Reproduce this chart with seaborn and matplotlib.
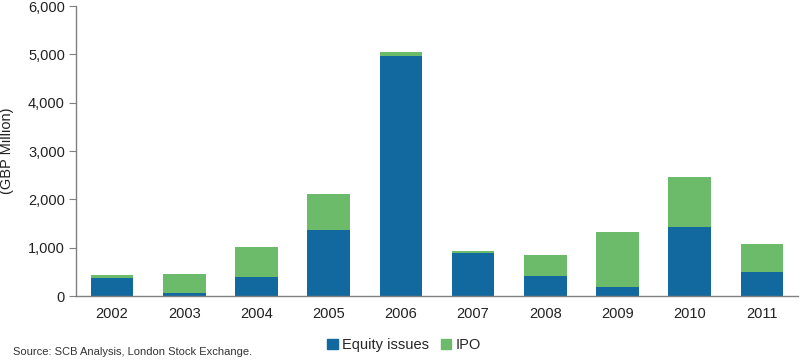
import pandas as pd
import seaborn as sns
import matplotlib.pyplot as plt
import matplotlib
from matplotlib.patches import Patch

matplotlib.use('Agg')

# Daten (GBP Million)
years = ['2002', '2003', '2004', '2005', '2006', '2007', '2008', '2009', '2010', '2011']
equity_issues = [380, 55, 385, 1365, 4970, 885, 410, 195, 1420, 490]
ipo = [55, 405, 620, 745, 75, 45, 430, 1120, 1050, 580]

blue = '#12699f'
green = '#6cbb6a'
axis_grey = '#808080'

df = pd.DataFrame({'year': years, 'equity': equity_issues, 'ipo': ipo})
df['total'] = df['equity'] + df['ipo']

sns.set_style('white')
plt.rcParams['font.family'] = ['Liberation Sans', 'DejaVu Sans']

fig = plt.figure(figsize=(8, 3.61), dpi=100)
ax = fig.add_axes([0.095, 0.18, 0.9025, 0.803])

# gestapelt: Gesamt (grün) hinten, Equity (blau) davor
sns.barplot(data=df, x='year', y='total', color=green, width=0.59,
            saturation=1, ax=ax, linewidth=0)
sns.barplot(data=df, x='year', y='equity', color=blue, width=0.59,
            saturation=1, ax=ax, linewidth=0)

ax.set_xlim(-0.5, len(years) - 0.5)
ax.set_ylim(0, 6000)
ax.set_yticks(range(0, 6001, 1000))
ax.yaxis.set_major_formatter(matplotlib.ticker.FuncFormatter(lambda v, _: f'{int(v):,}'))
ax.set_xlabel('')
ax.set_ylabel('(GBP Million)', fontsize=10.5, color='#222222', labelpad=10)

# Tick-Striche zwischen den Kategorien
ax.set_xticks([i - 0.5 for i in range(len(years) + 1)], minor=True)
ax.tick_params(axis='x', which='major', length=0, pad=8, labelsize=10.5, colors='#222222')
ax.tick_params(axis='x', which='minor', length=5, direction='out', color=axis_grey, width=1)
ax.tick_params(axis='y', which='major', length=5, direction='out', color=axis_grey,
               labelsize=10.5, labelcolor='#222222', left=True, pad=3)

for side in ['top', 'right']:
    ax.spines[side].set_visible(False)
for side in ['left', 'bottom']:
    ax.spines[side].set_color(axis_grey)
    ax.spines[side].set_linewidth(1)

handles = [Patch(color=blue, label='Equity issues'), Patch(color=green, label='IPO')]
fig.legend(handles=handles, loc='center', bbox_to_anchor=(0.505, 0.044), ncol=2,
           frameon=False, fontsize=10.5, handlelength=0.7, handleheight=0.7,
           handletextpad=0.3, columnspacing=0.8)

fig.text(0.016, 0.025, 'Source: SCB Analysis, London Stock Exchange.', fontsize=8,
         color='#333333', va='center')

plt.savefig('out.png', dpi=100)
